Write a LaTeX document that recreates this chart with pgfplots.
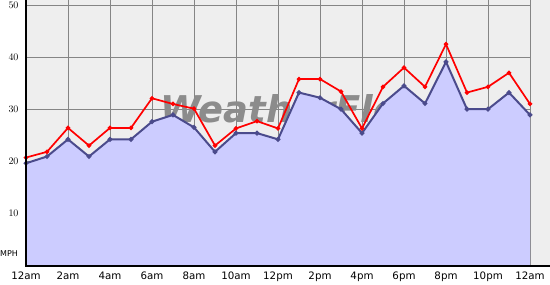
\documentclass[border=0pt]{standalone}
\usepackage{fontspec}
\setmainfont{DejaVu Sans}
\usepackage{pgfplots}
\pgfplotsset{compat=1.18}
\definecolor{bgcol}{HTML}{EEEEEE}
\definecolor{areacol}{HTML}{CCCCFF}
\definecolor{avgcol}{HTML}{4B4B8C}
\definecolor{gridcol}{HTML}{858585}
\definecolor{wmcol}{HTML}{8C8C8C}
\begin{document}
\begin{tikzpicture}
\fill[bgcol] (0,0) rectangle (524bp,265.7bp);
\begin{axis}[
  scale only axis,
  anchor=south west,
  at={(0,0)},
  width=504bp, height=265.7bp,
  xmin=0, xmax=24, ymin=0, ymax=51.1,
  axis line style={draw=none},
  xtick={0,2,...,24},
  xticklabels={12am,2am,4am,6am,8am,10am,12pm,2pm,4pm,6pm,8pm,10pm,12am},
  ytick={10,20,30,40,50},
  major tick length=0pt,
  grid=major,
  major grid style={gridcol, line width=0.8bp},
  tick label style={font=\fontsize{10.3}{12}\selectfont},
  yticklabel style={xshift=-4bp},
  xticklabel style={yshift=-2.5bp},
  clip=false,
]
\node[anchor=base west, text=wmcol, font=\fontsize{37}{40}\selectfont\bfseries\itshape, inner sep=0pt] at (axis cs:6.38,27.6) {WeatherFlow};
\addplot[draw=none, fill=areacol] coordinates {
(0,19.7)(1,21.0)(2,24.3)(3,21.0)(4,24.3)(5,24.3)(6,27.7)(7,29.0)(8,26.6)(9,21.9)(10,25.5)(11,25.5)(12,24.3)
(13,33.3)(14,32.3)(15,30.1)(16,25.5)(17,31.2)(18,34.6)(19,31.2)(20,39.2)(21,30.1)(22,30.1)(23,33.3)(24,29.0)
} \closedcycle;
\addplot[avgcol, line width=2bp, mark=*, mark size=1.3bp, mark options={solid}] coordinates {
(0,19.7)(1,21.0)(2,24.3)(3,21.0)(4,24.3)(5,24.3)(6,27.7)(7,29.0)(8,26.6)(9,21.9)(10,25.5)(11,25.5)(12,24.3)
(13,33.3)(14,32.3)(15,30.1)(16,25.5)(17,31.2)(18,34.6)(19,31.2)(20,39.2)(21,30.1)(22,30.1)(23,33.3)(24,29.0)
};
\addplot[red, line width=1.7bp, mark=*, mark size=1.3bp, mark options={solid}] coordinates {
(0,20.8)(1,21.9)(2,26.5)(3,23.1)(4,26.5)(5,26.5)(6,32.2)(7,31.1)(8,30.2)(9,23.1)(10,26.4)(11,27.8)(12,26.4)
(13,35.9)(14,35.9)(15,33.5)(16,26.4)(17,34.4)(18,38.1)(19,34.4)(20,42.6)(21,33.3)(22,34.4)(23,37.1)(24,31.1)
};
\end{axis}
\draw[black, line width=2bp] (0,265.7bp) -- (0,0) -- (524bp,0);
\node[anchor=west, inner sep=0pt, font=\fontsize{8}{9}\selectfont] at (-26bp,11.7bp) {MPH};
\pgfresetboundingbox
\path[use as bounding box] (-26bp,-19.3bp) rectangle (524bp,265.7bp);
\end{tikzpicture}
\end{document}
